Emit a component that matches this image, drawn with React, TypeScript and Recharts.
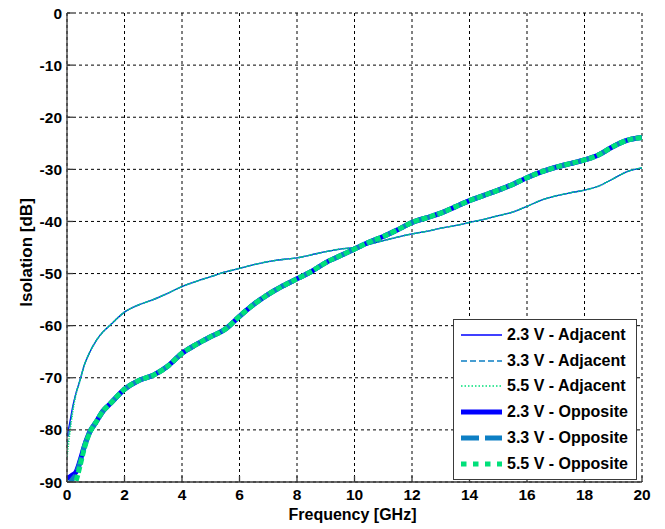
import React from 'react';
import { LineChart, Line, XAxis, YAxis, CartesianGrid, Legend } from 'recharts';

const freq = [0, 0.1, 0.2, 0.3, 0.45, 0.6, 0.8, 1.0, 1.25, 1.5, 2, 2.5, 3, 3.5, 4, 4.5, 5, 5.5, 6, 6.5, 7, 7.5, 8, 8.5, 9, 9.5, 10, 10.5, 11, 11.5, 12, 12.5, 13, 13.5, 14, 14.5, 15, 15.5, 16, 16.5, 17, 17.5, 18, 18.5, 19, 19.5, 20];

const adj23 = [-81.3, -78.5, -75.5, -73.2, -70.5, -67.6, -65.0, -63.0, -61.2, -59.9, -57.4, -56.0, -55.0, -53.8, -52.5, -51.5, -50.6, -49.7, -49.0, -48.3, -47.7, -47.3, -47.0, -46.4, -45.8, -45.3, -45.0, -44.4, -43.7, -43.0, -42.4, -41.9, -41.3, -40.8, -40.2, -39.6, -38.9, -38.2, -37.1, -35.9, -35.1, -34.5, -34.0, -33.2, -31.8, -30.4, -29.7];
const adj33 = [-83.0, -79.5, -75.9, -73.3, -70.5, -67.6, -65.0, -63.0, -61.2, -59.9, -57.4, -56.0, -55.0, -53.8, -52.5, -51.5, -50.6, -49.7, -49.0, -48.3, -47.7, -47.3, -47.0, -46.4, -45.8, -45.3, -45.0, -44.4, -43.7, -43.0, -42.4, -41.9, -41.3, -40.8, -40.2, -39.6, -38.9, -38.2, -37.1, -35.9, -35.1, -34.5, -34.0, -33.2, -31.8, -30.4, -29.7];
const adj55 = [-85.2, -80.5, -76.5, -73.5, -70.6, -67.6, -65.0, -63.0, -61.2, -59.9, -57.4, -56.0, -55.0, -53.8, -52.5, -51.5, -50.6, -49.7, -49.0, -48.3, -47.7, -47.3, -47.0, -46.4, -45.8, -45.3, -45.0, -44.4, -43.7, -43.0, -42.4, -41.9, -41.3, -40.8, -40.2, -39.6, -38.9, -38.2, -37.1, -35.9, -35.1, -34.5, -34.0, -33.2, -31.8, -30.4, -29.7];

const opp23 = [-89.3, -89.0, -88.6, -88.2, -86.0, -83.2, -80.3, -78.6, -76.4, -75.0, -72.2, -70.5, -69.5, -67.8, -65.3, -63.6, -62.1, -60.7, -58.2, -55.9, -54.0, -52.4, -51.0, -49.6, -47.9, -46.6, -45.3, -44.0, -42.9, -41.6, -40.2, -39.3, -38.4, -37.2, -36.0, -35.0, -34.0, -32.9, -31.6, -30.5, -29.6, -28.9, -28.2, -27.2, -25.6, -24.4, -23.9];
const opp33 = [-90.8, -90.2, -89.4, -88.7, -86.3, -83.3, -80.3, -78.6, -76.4, -75.0, -72.2, -70.5, -69.5, -67.8, -65.3, -63.6, -62.1, -60.7, -58.2, -55.9, -54.0, -52.4, -51.0, -49.6, -47.9, -46.6, -45.3, -44.0, -42.9, -41.6, -40.2, -39.3, -38.4, -37.2, -36.0, -35.0, -34.0, -32.9, -31.6, -30.5, -29.6, -28.9, -28.2, -27.2, -25.6, -24.4, -23.9];
const opp55 = [-92.5, -91.8, -91.0, -90.0, -87.0, -83.6, -80.4, -78.6, -76.4, -75.0, -72.2, -70.5, -69.5, -67.8, -65.3, -63.6, -62.1, -60.7, -58.2, -55.9, -54.0, -52.4, -51.0, -49.6, -47.9, -46.6, -45.3, -44.0, -42.9, -41.6, -40.2, -39.3, -38.4, -37.2, -36.0, -35.0, -34.0, -32.9, -31.6, -30.5, -29.6, -28.9, -28.2, -27.2, -25.6, -24.4, -23.9];

const xTicks = [0, 2, 4, 6, 8, 10, 12, 14, 16, 18, 20];
const yTicks = [-90, -80, -70, -60, -50, -40, -30, -20, -10, 0];

const BLUE = '#0000ff';
const TEAL = '#0d7fc4';
const GREEN = '#00e07a';

const SERIES = [
  { key: 'a23', name: '2.3 V - Adjacent', color: BLUE, width: 1.3, dash: undefined, legendDash: undefined },
  { key: 'a33', name: '3.3 V - Adjacent', color: TEAL, width: 1.3, dash: '6 3', legendDash: '6 3' },
  { key: 'a55', name: '5.5 V - Adjacent', color: GREEN, width: 1.6, dash: '1.2 1.3', legendDash: '1.5 2' },
  { key: 'o23', name: '2.3 V - Opposite', color: BLUE, width: 5, dash: undefined, legendDash: undefined },
  { key: 'o33', name: '3.3 V - Opposite', color: TEAL, width: 5, dash: '14 5', legendDash: '18 6' },
  { key: 'o55', name: '5.5 V - Opposite', color: GREEN, width: 5, dash: '6 2.5', legendDash: '5.5 6.5' },
];

const seriesValues: Record<string, number[]> = { a23: adj23, a33: adj33, a55: adj55, o23: opp23, o33: opp33, o55: opp55 };

const data = freq.map((f, i) => {
  const row: Record<string, number> = { f };
  Object.keys(seriesValues).forEach((k) => { row[k] = seriesValues[k][i]; });
  return row;
});

const FONT = '"Liberation Sans", Arial, Helvetica, sans-serif';
const AXIS_COLOR = '#3a3a3a';

const LegendBox = () => (
  <div style={{ width: 182, height: 157, border: '1px solid #3a3a3a', background: '#fff', paddingTop: 2, boxSizing: 'content-box' }}>
    {SERIES.map((s) => (
      <div key={s.key} style={{ display: 'flex', alignItems: 'center', height: 25.8 }}>
        <svg width={41} height={12} style={{ marginLeft: 7, display: 'block' }}>
          <line x1={0} y1={6} x2={41} y2={6} stroke={s.color} strokeWidth={s.width > 2 ? 5 : 1.5} strokeDasharray={s.legendDash} />
        </svg>
        <span style={{ marginLeft: 5, fontFamily: FONT, fontWeight: 700, fontSize: 16, color: '#000', whiteSpace: 'nowrap', lineHeight: '18px' }}>{s.name}</span>
      </div>
    ))}
  </div>
);

const YLabel = (props: any) => {
  const vb = props.viewBox || { x: 0, y: 13, width: 67, height: 469 };
  const cx = vb.x + 26;
  const cy = vb.y + vb.height / 2 + 5;
  return (
    <text x={cx} y={cy} transform={`rotate(-90 ${cx} ${cy})`} textAnchor="middle" dy="0.355em" fontFamily={FONT} fontWeight={700} fontSize={17} fill="#000">
      Isolation [dB]
    </text>
  );
};

const XLabel = (props: any) => {
  const vb = props.viewBox || { x: 67, y: 482, width: 575, height: 47 };
  const cx = vb.x + vb.width / 2 - 2;
  const cy = vb.y + 37.5;
  return (
    <text x={cx} y={cy} textAnchor="middle" fontFamily={FONT} fontWeight={700} fontSize={16} fill="#000">
      Frequency [GHz]
    </text>
  );
};

export default function App() {
  return (
    <div style={{ position: 'absolute', left: 0, top: 0, width: 665, height: 529, background: '#fff', fontFamily: FONT }}>
      <LineChart width={665} height={529} data={data} margin={{ top: 13, right: 23, bottom: 0, left: 0 }}>
        <CartesianGrid stroke="#000" strokeDasharray="3 3" strokeWidth={1} />
        <XAxis
          dataKey="f"
          type="number"
          domain={[0, 20]}
          ticks={xTicks}
          interval={0}
          allowDataOverflow
          height={47}
          tickSize={-6}
          tickMargin={12.5}
          stroke={AXIS_COLOR}
          strokeWidth={1.3}
          tick={{ fill: '#000', fontSize: 15.5, fontWeight: 700, fontFamily: FONT }}
          label={{ content: XLabel }}
        />
        <XAxis
          xAxisId="top"
          orientation="top"
          dataKey="f"
          type="number"
          domain={[0, 20]}
          ticks={xTicks}
          interval={0}
          allowDataOverflow
          height={0}
          tickSize={-6}
          tickFormatter={() => ''}
          stroke={AXIS_COLOR}
          strokeWidth={1.3}
        />
        <YAxis
          type="number"
          domain={[-90, 0]}
          ticks={yTicks}
          interval={0}
          allowDataOverflow
          width={67}
          tickSize={-6}
          tickMargin={11}
          stroke={AXIS_COLOR}
          strokeWidth={1.3}
          tick={{ fill: '#000', fontSize: 15.5, fontWeight: 700, fontFamily: FONT }}
          label={{ content: YLabel }}
        />
        <YAxis
          yAxisId="right"
          orientation="right"
          type="number"
          domain={[-90, 0]}
          ticks={yTicks}
          interval={0}
          allowDataOverflow
          width={0}
          tickSize={-6}
          tickFormatter={() => ''}
          stroke={AXIS_COLOR}
          strokeWidth={1.3}
        />
        {SERIES.map((s) => (
          <Line
            key={s.key}
            type="monotone"
            dataKey={s.key}
            name={s.name}
            stroke={s.color}
            strokeWidth={s.width}
            strokeDasharray={s.dash}
            dot={false}
            activeDot={false}
            isAnimationActive={false}
          />
        ))}
        <Legend
          layout="vertical"
          align="center"
          verticalAlign="middle"
          content={() => <LegendBox />}
          wrapperStyle={{ position: 'absolute', left: 453, top: 319, width: 'auto', height: 'auto', margin: 0, padding: 0 }}
        />
      </LineChart>
    </div>
  );
}
